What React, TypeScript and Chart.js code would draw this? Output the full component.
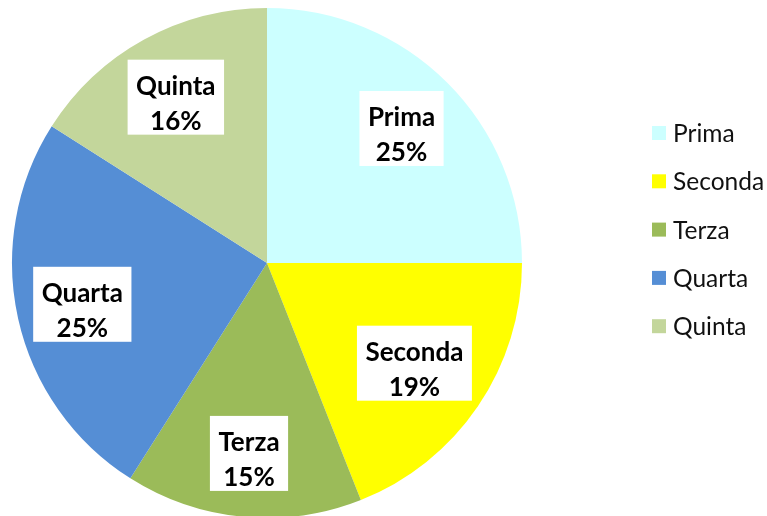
import { useEffect, useRef } from "react";
import { Chart, registerables } from "chart.js";

Chart.register(...registerables);

const categories = ["Prima", "Seconda", "Terza", "Quarta", "Quinta"];
const values = [25, 19, 15, 25, 16];
const colors = ["#CCFFFF", "#FFFF00", "#9BBB59", "#558ED5", "#C3D69B"];

const FONT = "Lato, 'Open Sans', sans-serif";

const boxLabels = {
  id: "boxLabels",
  afterDatasetsDraw(chart: any) {
    const ctx = chart.ctx;
    const meta = chart.getDatasetMeta(0);
    const data = chart.data.datasets[0].data as number[];
    const total = data.reduce((a, b) => a + b, 0);
    ctx.save();
    ctx.font = `bold 26px ${FONT}`;
    ctx.textAlign = "center";
    ctx.textBaseline = "alphabetic";
    meta.data.forEach((arc: any, i: number) => {
      const { x, y, startAngle, endAngle, outerRadius } = arc.getProps(
        ["x", "y", "startAngle", "endAngle", "outerRadius"],
        true
      );
      const mid = (startAngle + endAngle) / 2;
      const l1 = String(chart.data.labels[i]);
      const l2 = Math.round((data[i] / total) * 100) + "%";
      const w = Math.max(ctx.measureText(l1).width, ctx.measureText(l2).width) + 17;
      const h = 75;
      const limit = outerRadius - 8;
      let d = outerRadius * 0.75;
      // best fit: pull the box inwards until all its corners lie inside the pie
      for (let k = 0; k < 200; k++) {
        const cx0 = x + Math.cos(mid) * d;
        const cy0 = y + Math.sin(mid) * d;
        let far = 0;
        for (const sx of [-1, 1]) {
          for (const sy of [-1, 1]) {
            const px = cx0 + (sx * w) / 2 - x;
            const py = cy0 + (sy * h) / 2 - y;
            far = Math.max(far, Math.hypot(px, py));
          }
        }
        if (far <= limit) break;
        d -= 1;
      }
      const cx = x + Math.cos(mid) * d;
      const cy = y + Math.sin(mid) * d;
      ctx.fillStyle = "#ffffff";
      ctx.fillRect(cx - w / 2, cy - h / 2, w, h);
      ctx.fillStyle = "#000000";
      ctx.fillText(l1, cx, cy - 2);
      ctx.fillText(l2, cx, cy + 33);
    });
    ctx.restore();
  },
};

const sideLegend = {
  id: "sideLegend",
  afterDraw(chart: any) {
    const ctx = chart.ctx;
    const ds = chart.data.datasets[0];
    const x0 = chart.chartArea.right + 130;
    const y0 = 133;
    const step = 48.3;
    ctx.save();
    ctx.font = `24.5px ${FONT}`;
    ctx.textAlign = "left";
    ctx.textBaseline = "middle";
    chart.data.labels.forEach((lab: string, i: number) => {
      const yc = y0 + i * step;
      ctx.fillStyle = ds.backgroundColor[i];
      ctx.fillRect(x0, yc - 7, 14, 14);
      ctx.fillStyle = "#111111";
      ctx.fillText(lab, x0 + 21, yc + 1);
    });
    ctx.restore();
  },
};

export default function App() {
  const ref = useRef<HTMLCanvasElement | null>(null);

  useEffect(() => {
    document.body.style.margin = "0";
    document.body.style.overflow = "hidden";
    const canvas = ref.current;
    if (!canvas) return;
    const chart = new Chart(canvas, {
      type: "pie",
      data: {
        labels: categories,
        datasets: [
          {
            data: values,
            backgroundColor: colors,
            borderWidth: 0,
            hoverOffset: 0,
          },
        ],
      },
      options: {
        animation: false,
        responsive: false,
        events: [],
        layout: { padding: { left: 12, top: 8, right: 245, bottom: 8 } },
        plugins: {
          legend: { display: false },
          tooltip: { enabled: false },
        },
      },
      plugins: [boxLabels, sideLegend],
    });
    return () => chart.destroy();
  }, []);

  return (
    <div style={{ position: "fixed", left: 0, top: 0, width: 767, height: 526, background: "#fff" }}>
      <canvas ref={ref} width={767} height={526} style={{ width: 767, height: 526, display: "block" }} />
    </div>
  );
}
